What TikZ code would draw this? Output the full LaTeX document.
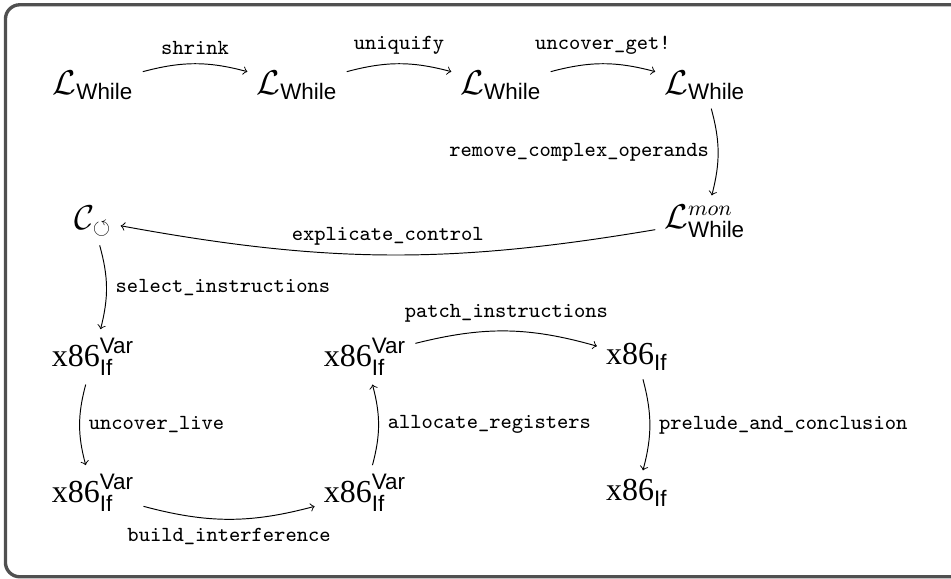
\documentclass[tikz,border=0pt,11pt]{standalone}
\usepackage{amsmath,amssymb}
\usepackage{fontspec}
\setmainfont{Liberation Serif}
\setsansfont{Liberation Sans}
\usetikzlibrary{positioning}

\newcommand{\LangWhile}{\ensuremath{\mathcal{L}_{\textsf{While}}}}
\newcommand{\LangWhileMon}{\ensuremath{\mathcal{L}^{mon}_{\textsf{While}}}}
\newcommand{\LangCLoop}{\ensuremath{\mathcal{C}_{\circlearrowleft}}}
\newcommand{\LangXIfVar}{x86\ensuremath{^{\textsf{Var}}_{\textsf{If}}}}
\newcommand{\LangXIf}{x86\ensuremath{_{\textsf{If}}}}
\newcommand{\langsize}{\fontsize{13.4}{16}\selectfont}
\definecolor{framegray}{RGB}{80,80,80}

\begin{document}
\begin{tikzpicture}[baseline=(current  bounding  box.center)]
\begin{scope}
\clip (-1.37,-5.265) rectangle (12.62,3.25);
\draw[framegray, line width=1.4pt, rounded corners=6pt] (-1.29,-5.235) rectangle (13.5,3.18);
\end{scope}
\useasboundingbox (-1.37,-5.265) rectangle (12.62,3.25);

\node (Lwhile) at (0,2)  {\langsize \LangWhile{}};
\node (Lwhile-2) at (3,2)  {\langsize \LangWhile{}};
\node (Lwhile-3) at (6,2)  {\langsize \LangWhile{}};
\node (Lwhile-4) at (9,2)  {\langsize \LangWhile{}};
\node (Lwhile-5) at (9,0)  {\langsize \LangWhileMon{}};
\node (C-loop) at (0,0)  {\langsize \LangCLoop{}};

\node (x86-2) at (0,-2)  {\langsize \LangXIfVar{}};
\node (x86-2-1) at (0,-4)  {\langsize \LangXIfVar{}};
\node (x86-2-2) at (4,-4)  {\langsize \LangXIfVar{}};
\node (x86-3) at (4,-2)  {\langsize \LangXIfVar{}};
\node (x86-4) at (8,-2) {\langsize \LangXIf{}};
\node (x86-5) at (8,-4) {\langsize \LangXIf{}};

\path[->,bend left=15] (Lwhile) edge [above] node
     {\ttfamily\footnotesize shrink} (Lwhile-2);
\path[->,bend left=15] (Lwhile-2) edge [above] node
     {\ttfamily\footnotesize uniquify} (Lwhile-3);
\path[->,bend left=15] (Lwhile-3) edge [above] node
     {\ttfamily\footnotesize uncover\_get!} (Lwhile-4);
\path[->,bend left=15] (Lwhile-4) edge [left] node
     {\ttfamily\footnotesize remove\_complex\_operands} (Lwhile-5);
\path[->,bend left=10] (Lwhile-5) edge [above] node
     {\ttfamily\footnotesize explicate\_control} (C-loop);
\path[->,bend left=15] (C-loop) edge [right] node
     {\ttfamily\footnotesize select\_instructions} (x86-2);
\path[->,bend right=15] (x86-2) edge [right] node
     {\ttfamily\footnotesize uncover\_live} (x86-2-1);
\path[->,bend right=15] (x86-2-1) edge [below] node
     {\ttfamily\footnotesize build\_interference} (x86-2-2);
\path[->,bend right=15] (x86-2-2) edge [right] node
     {\ttfamily\footnotesize allocate\_registers} (x86-3);
\path[->,bend left=15] (x86-3) edge [above] node
     {\ttfamily\footnotesize patch\_instructions} (x86-4);
\path[->,bend left=15] (x86-4) edge [right] node
     {\ttfamily\footnotesize prelude\_and\_conclusion} (x86-5);
\end{tikzpicture}
\end{document}
